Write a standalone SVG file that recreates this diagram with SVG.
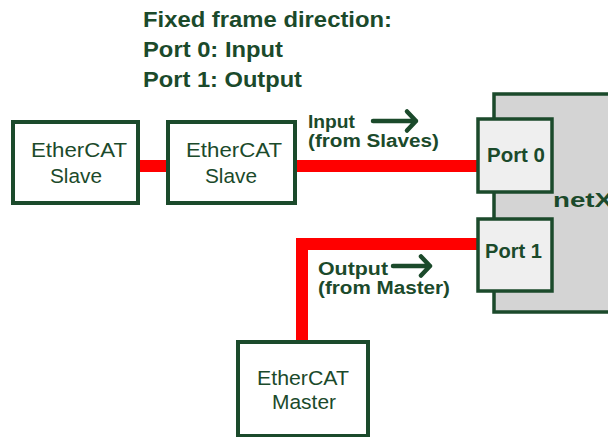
<svg xmlns="http://www.w3.org/2000/svg" width="608" height="437" viewBox="0 0 608 437">
<defs>
<style>
.box{fill:#ffffff;stroke:#1b4a2b;stroke-width:4}
.port{fill:#efefef;stroke:#1b4a2b;stroke-width:3.5}
.lbl{font-family:"Liberation Sans",Arial,sans-serif;font-size:20.5px;fill:#1b4a2b}
.b{font-family:"Liberation Sans",Arial,sans-serif;font-weight:bold;fill:#1b4a2b}
.wire{fill:none;stroke:#ff0000;stroke-width:12}
.arr{fill:none;stroke:#1b4a2b;stroke-width:4.5;stroke-linecap:round;stroke-linejoin:round}
</style>
</defs>
<rect width="608" height="437" fill="#ffffff"/>
<g id="title">
<text class="b" x="143" y="27" font-size="21.5" textLength="249" lengthAdjust="spacingAndGlyphs">Fixed frame direction:</text>
<text class="b" x="143" y="57" font-size="21.5" textLength="140" lengthAdjust="spacingAndGlyphs">Port 0: Input</text>
<text class="b" x="143" y="87" font-size="21.5" textLength="159" lengthAdjust="spacingAndGlyphs">Port 1: Output</text>
</g>
<g id="connectors">
<line class="wire" x1="138" y1="166" x2="168" y2="166"/>
<line class="wire" x1="295" y1="166" x2="478" y2="166"/>
<polyline class="wire" points="478,244 302,244 302,342"/>
</g>
<g id="netx">
<rect x="494" y="94" width="130" height="218" fill="#d4d4d4" stroke="#1b4a2b" stroke-width="3.5"/>
<text class="b" x="553" y="207" font-size="21" textLength="60" lengthAdjust="spacingAndGlyphs">netX</text>
</g>
<g id="port0">
<rect class="port" x="478" y="119" width="74" height="73"/>
<text class="b" x="487" y="162" font-size="20.5" textLength="58" lengthAdjust="spacingAndGlyphs">Port 0</text>
</g>
<g id="port1">
<rect class="port" x="478" y="219" width="74" height="72"/>
<text class="b" x="485" y="258" font-size="20.5" textLength="57" lengthAdjust="spacingAndGlyphs">Port 1</text>
</g>
<g id="slave1">
<rect class="box" x="13" y="122" width="125" height="81"/>
<text class="lbl" x="31" y="157" textLength="96" lengthAdjust="spacingAndGlyphs">EtherCAT</text>
<text class="lbl" x="50" y="183" textLength="52" lengthAdjust="spacingAndGlyphs">Slave</text>
</g>
<g id="slave2">
<rect class="box" x="168" y="122" width="127" height="81"/>
<text class="lbl" x="186" y="157" textLength="96" lengthAdjust="spacingAndGlyphs">EtherCAT</text>
<text class="lbl" x="205" y="183" textLength="52" lengthAdjust="spacingAndGlyphs">Slave</text>
</g>
<g id="master">
<rect class="box" x="238" y="342" width="130" height="94"/>
<text class="lbl" x="257" y="385" textLength="92" lengthAdjust="spacingAndGlyphs">EtherCAT</text>
<text class="lbl" x="272" y="409" textLength="64" lengthAdjust="spacingAndGlyphs">Master</text>
</g>
<g id="input-label">
<text class="b" x="308" y="128" font-size="17.5" textLength="47" lengthAdjust="spacingAndGlyphs">Input</text>
<text class="b" x="308" y="147" font-size="17.5" textLength="131" lengthAdjust="spacingAndGlyphs">(from Slaves)</text>
<path class="arr" d="M373,121 H416 M407,111.5 L416,121 L407,130.5"/>
</g>
<g id="output-label">
<text class="b" x="318" y="275" font-size="17.5" textLength="70" lengthAdjust="spacingAndGlyphs">Output</text>
<text class="b" x="318" y="294" font-size="17.5" textLength="132" lengthAdjust="spacingAndGlyphs">(from Master)</text>
<path class="arr" d="M393,266 H430 M421,256.5 L430,266 L421,275.5"/>
</g>
</svg>
